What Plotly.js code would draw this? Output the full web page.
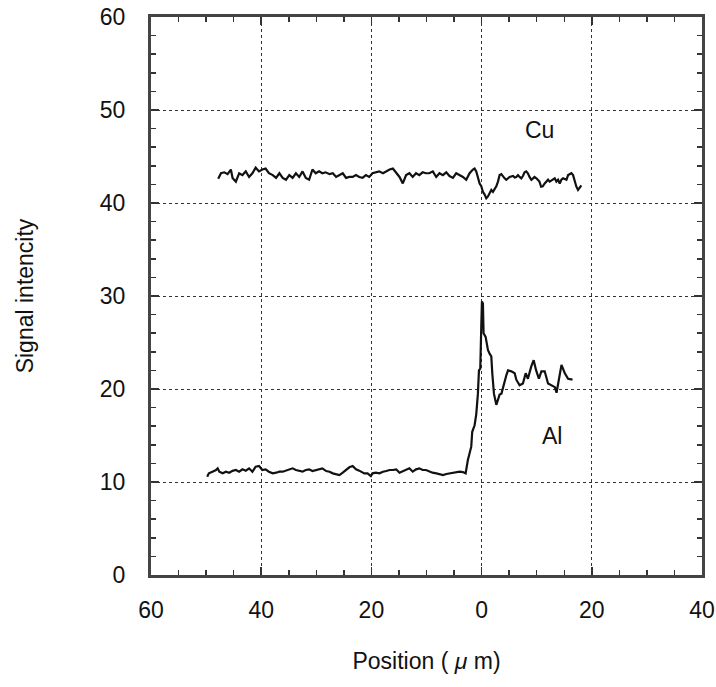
<!DOCTYPE html>
<html>
<head>
<meta charset="utf-8">
<script src="https://cdn.plot.ly/plotly-3.0.1.min.js"></script>
<style>
html,body{margin:0;padding:0;background:#fff;}
#chart{width:716px;height:687px;}
</style>
</head>
<body>
<div id="chart"></div>
<script>
// Cu line profile
const cuX = [-47.8,-47.3,-46.7,-46.1,-45.5,-45.2,-44.6,-44.0,-43.4,-42.8,-42.2,-41.6,-41.0,-40.4,-39.8,-39.2,-38.6,-37.9,-37.3,-36.7,-36.1,-35.5,-34.9,-34.3,-33.7,-33.1,-32.5,-31.9,-31.3,-30.7,-30.1,-29.5,-28.9,-28.3,-27.6,-27.0,-26.4,-25.8,-25.2,-24.6,-24.0,-23.4,-22.8,-22.2,-21.6,-21.0,-20.4,-19.8,-19.2,-18.6,-17.9,-17.3,-16.7,-16.1,-15.5,-14.9,-14.3,-13.7,-13.1,-12.5,-11.9,-11.3,-10.7,-10.1,
  -9.5,-8.85,-8.24,-7.64,-7.03,-6.42,-5.82,-5.21,-4.61,-4.0,-3.39,-2.79,-2.18,-1.58,-1.27,-0.97,-0.67,-0.36,-0.06,0.24,0.55,0.85,1.15,1.45,1.76,2.06,2.36,2.67,2.97,3.27,3.58,3.88,4.18,4.48,4.79,5.09,5.7,6.0,6.3,6.6,6.9,7.2,7.5,7.8,8.1,8.4,8.7,9.03,9.33,9.6,9.94,10.24,10.5,10.8,11.1,11.45,11.7,12.06,12.36,12.67,12.97,13.27,13.57,13.88,14.18,14.48,14.79,15.4,15.7,16.0,16.3,16.6,16.9,17.2,17.5,17.8,18.1];
const cuY = [42.6,43.2,43.3,43.1,43.6,42.7,42.3,43.2,43.0,43.4,42.8,43.2,43.8,43.4,43.6,43.7,43.2,43.0,42.7,43.2,42.7,42.5,43.0,42.7,43.2,42.8,43.4,42.7,42.5,43.6,43.2,43.4,43.2,43.3,43.1,43.2,42.8,43.0,43.2,42.7,42.8,42.8,43.0,42.8,42.7,43.0,42.8,43.2,43.3,43.4,43.2,43.4,43.6,43.7,43.2,42.8,42.1,43.0,43.2,42.8,43.2,43.0,43.3,43.2,
  43.2,43.4,42.8,43.2,43.0,43.3,42.9,42.7,43.2,43.0,42.8,42.5,43.2,43.6,43.7,43.4,42.8,42.1,41.8,41.2,40.9,40.5,40.7,41.0,41.4,41.2,41.5,41.8,42.3,43.0,43.1,42.8,42.65,42.5,42.65,42.8,42.9,42.75,42.8,43.0,42.8,42.65,42.9,43.3,43.4,43.2,42.8,42.5,42.65,42.8,42.65,42.5,42.3,41.75,41.8,42.1,42.3,42.5,42.3,42.4,42.5,42.65,42.3,42.5,42.1,42.5,42.65,42.5,43.0,43.1,43.2,43.0,42.3,41.75,41.4,41.6,41.9];

// Al line profile
const alX = [-49.8,-49.5,-48.85,-48.2,-47.9,-47.6,-47.0,-46.4,-45.8,-45.2,-44.6,-44.0,-43.4,-42.8,-42.2,-41.9,-41.6,-41.0,-40.4,-39.8,-39.2,-38.6,-37.9,-37.3,-36.7,-36.1,-35.5,-34.9,-34.3,-33.7,-33.1,-32.5,-31.9,-31.3,-30.7,-30.1,-29.5,-28.9,-28.2,-27.6,-27.0,-26.4,-25.8,-25.2,-24.6,-24.0,-23.4,-22.8,-22.2,-21.6,-21.3,-20.7,-20.1,-19.8,-19.2,-18.55,-17.9,-17.3,-16.7,-16.1,-15.5,-14.9,-14.3,-13.7,-13.1,-12.5,-11.9,-11.3,-10.7,-10.1,-9.5,-8.9,-8.2,-7.6,-7.0,-6.4,-5.8,-5.2,-4.6,-4.0,-3.4,-3.1,
  -2.9,-2.49,-1.88,-1.7,-1.27,-0.97,-0.67,-0.48,-0.24,-0.06,0.06,0.24,0.36,0.73,1.15,1.45,1.76,1.94,2.24,2.67,2.97,3.27,3.6,3.88,4.5,4.8,5.4,6.0,6.3,6.9,7.5,8.0,8.4,9.0,9.45,9.9,10.4,10.85,11.45,12.06,12.7,13.3,13.6,13.9,14.5,15.1,15.7,16.5];
const alY = [10.57,10.93,11.11,11.29,11.47,11.11,10.93,11.11,11.0,11.2,11.29,11.11,11.36,11.22,11.47,11.29,11.11,11.65,11.72,11.29,11.36,11.11,10.93,11.0,11.11,11.11,11.22,11.36,11.47,11.29,11.22,11.11,11.29,11.36,11.18,11.29,11.4,11.47,11.18,11.11,10.93,10.86,10.75,11.0,11.29,11.58,11.72,11.36,11.22,11.0,10.93,10.93,10.64,10.93,11.0,10.93,11.11,11.18,11.29,11.29,11.36,11.0,11.18,11.29,11.47,11.11,11.36,11.47,11.29,11.29,11.11,11.0,10.93,10.82,10.75,10.86,10.93,11.0,11.11,11.11,11.07,10.93,
  10.93,12.37,13.8,15.4,16.1,17.3,19.5,22.0,22.2,26.7,29.4,29.2,26.0,25.6,24.2,23.8,23.5,21.7,19.5,18.3,18.8,19.4,19.5,20.2,21.5,22.0,21.9,21.7,21.0,20.4,20.6,21.7,21.1,22.4,23.1,22.0,21.1,21.9,21.9,20.6,20.4,20.2,19.6,20.6,22.6,21.7,21.1,21.0];

const xTickVals = [-60,-40,-20,0,20,40];
const xTickText = ['60','40','20','0','20','40'];
const yTickVals = [0,10,20,30,40,50,60];
const labelNames = ['Cu','Al'];
const labelX = [10.5,12.7];
const labelY = [47.8,15.0];

const font = 'Liberation Sans, Arial, sans-serif';

const traces = [
  {x: cuX, y: cuY, type: 'scatter', mode: 'lines', line: {color: '#111', width: 2.2}, hoverinfo: 'skip', showlegend: false},
  {x: alX, y: alY, type: 'scatter', mode: 'lines', line: {color: '#111', width: 2.2}, hoverinfo: 'skip', showlegend: false}
];

const axisCommon = {
  showline: true, linecolor: '#444', linewidth: 3, mirror: 'allticks',
  ticks: 'inside', ticklen: 8, tickwidth: 1.5, tickcolor: '#333',
  showgrid: true, gridcolor: '#333', griddash: 'dot', gridwidth: 1,
  zeroline: false, tickfont: {family: font, size: 23, color: '#111'}
};

const layout = {
  width: 716, height: 687,
  margin: {l: 151, r: 14, t: 17, b: 112},
  paper_bgcolor: '#fff', plot_bgcolor: '#fff',
  font: {family: font, color: '#111'},
  xaxis: Object.assign({}, axisCommon, {
    range: [-60, 40], tickvals: xTickVals, ticktext: xTickText,
    ticklabelstandoff: 12,
    minor: {dtick: 5, ticks: 'inside', ticklen: 5, tickcolor: '#333', showgrid: false},
    title: {text: 'Position ( <i>\u03bc</i> m)', font: {family: font, size: 23, color: '#111'}, standoff: 32}
  }),
  yaxis: Object.assign({}, axisCommon, {
    range: [0, 60], tickvals: yTickVals,
    ticklabelstandoff: 18,
    minor: {dtick: 2, ticks: 'inside', ticklen: 5, tickcolor: '#333', showgrid: false},
    title: {text: 'Signal intencity', font: {family: font, size: 23, color: '#111'}, standoff: 60}
  }),
  annotations: labelNames.map((t, i) => ({
    x: labelX[i], y: labelY[i], xref: 'x', yref: 'y', text: t, showarrow: false,
    font: {family: font, size: 23, color: '#111'}
  }))
};

Plotly.newPlot('chart', traces, layout, {staticPlot: true});
</script>
</body>
</html>
